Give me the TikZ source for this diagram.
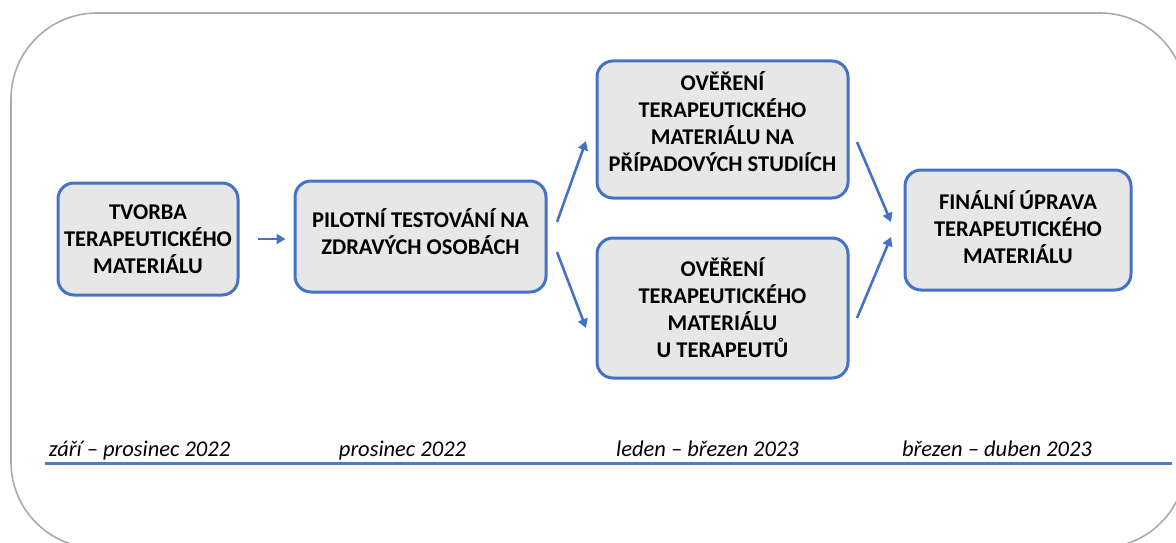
\documentclass[tikz,border=0pt]{standalone}
\usepackage{fontspec}
\setmainfont{Carlito}
\usetikzlibrary{arrows.meta}
\definecolor{boxblue}{RGB}{68,114,196}
\definecolor{boxfill}{RGB}{231,231,231}
\definecolor{framegray}{RGB}{170,170,170}
\definecolor{lineblue}{RGB}{79,124,190}
\tikzset{
  stepbox/.style={draw=boxblue, fill=boxfill, line width=3pt, rounded corners=16pt,
    align=center, font=\fontsize{22.5}{27}\selectfont\bfseries, inner sep=0pt},
  arr/.style={draw=boxblue, line width=2.6pt, -{Triangle[length=9pt,width=10pt]}},
  datelabel/.style={font=\fontsize{22.5}{26}\selectfont\itshape, inner sep=0pt, anchor=base}
}
\begin{document}
\begin{tikzpicture}[x=1pt,y=-1pt]
\useasboundingbox (0,0) rectangle (1176,543);
\begin{scope}
\clip (0,0) rectangle (1176,543);
\draw[framegray, line width=1.6pt, rounded corners=86pt] (11,13) rectangle (1186,548);
\end{scope}

\node[stepbox, minimum width=180pt, minimum height=112pt] (b1) at (148,239) {TVORBA\\TERAPEUTICKÉHO\\MATERIÁLU};
\node[stepbox, minimum width=251pt, minimum height=111pt] (b2) at (420.5,236.5) {PILOTNÍ TESTOVÁNÍ NA\\ZDRAVÝCH OSOBÁCH\\[-17pt]\mbox{}};
\node[stepbox, minimum width=251pt, minimum height=137pt] (b3) at (722.5,129.5) {OVĚŘENÍ\\TERAPEUTICKÉHO\\MATERIÁLU NA\\PŘÍPADOVÝCH STUDIÍCH\\[-12pt]\mbox{}};
\node[stepbox, minimum width=251pt, minimum height=140pt] (b4) at (722.5,308) {OVĚŘENÍ\\TERAPEUTICKÉHO\\MATERIÁLU\\U TERAPEUTŮ};
\node[stepbox, minimum width=226pt, minimum height=120pt] (b5) at (1018,230) {FINÁLNÍ ÚPRAVA\\TERAPEUTICKÉHO\\MATERIÁLU\\[-21pt]\mbox{}};

\draw[arr, shorten <=18pt, shorten >=8pt] (b1.east |- 0,239) coordinate (a1s) -- (b2.west |- 0,239) coordinate (a1e);
\coordinate (a2s) at (557,222);
\coordinate (a2e) at (586,141);
\coordinate (a3s) at (557,252);
\coordinate (a3e) at (586,328);
\coordinate (a4s) at (857,142);
\coordinate (a4e) at (891,222);
\coordinate (a5s) at (857,318);
\coordinate (a5e) at (891,237);
\draw[arr] (a2s) -- (a2e);
\draw[arr] (a3s) -- (a3e);
\draw[arr] (a4s) -- (a4e);
\draw[arr] (a5s) -- (a5e);

\node[datelabel] (d1) at (139.5,456.5) {září – prosinec 2022};
\node[datelabel] (d2) at (402.5,456.5) {prosinec 2022};
\node[datelabel] (d3) at (707.5,456.5) {leden – březen 2023};
\node[datelabel] (d4) at (997,456.5) {březen – duben 2023};

\coordinate (ls) at (45,463);
\coordinate (le) at (1172,463);
\draw[lineblue, line width=3pt] (ls) -- (le);
\end{tikzpicture}
\end{document}
